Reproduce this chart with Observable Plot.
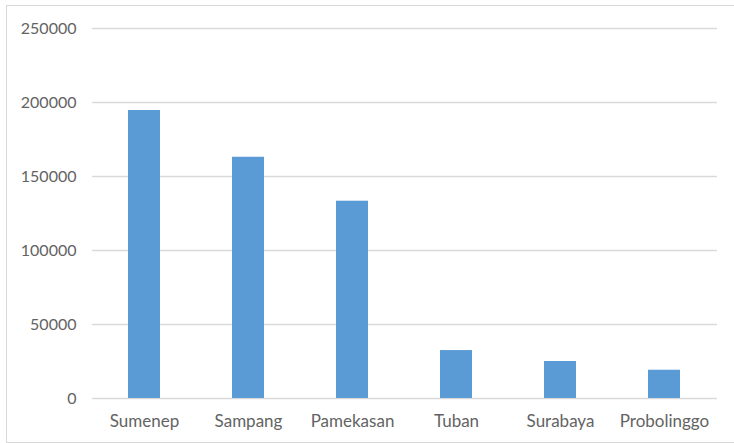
<!DOCTYPE html>
<html>
<head>
<meta charset="utf-8">
<script src="https://cdn.jsdelivr.net/npm/d3@7"></script>
<script src="https://cdn.jsdelivr.net/npm/@observablehq/plot@0.6"></script>
<style>
  html, body { margin: 0; padding: 0; background: #fff; }
  #chart { position: relative; width: 734px; height: 443px; overflow: hidden; }
  #chart::after {
    content: ""; position: absolute; left: 6px; top: 5px;
    width: 760px; height: 436px; border: 1px solid #d9d9d9; pointer-events: none;
  }
  #chart svg { display: block; }
</style>
</head>
<body>
<div id="chart"></div>
<script>
// Regencies / cities in East Java and their totals
const regions = ["Sumenep", "Sampang", "Pamekasan", "Tuban", "Surabaya", "Probolinggo"];
const totals = [194600, 163000, 133300, 32400, 25000, 19100];
const yTicks = [0, 50000, 100000, 150000, 200000, 250000];

const rows = regions.map((name, i) => ({ name, total: totals[i] }));

const chart = Plot.plot({
  width: 734,
  height: 443,
  marginLeft: 92,
  marginRight: 17,
  marginTop: 28,
  marginBottom: 45,
  style: { fontFamily: "Lato, 'Open Sans', sans-serif", fontSize: "16px", color: "#595959", background: "#fff" },
  x: { domain: regions, paddingInner: 0.69, paddingOuter: 0.345, label: null },
  y: { domain: [0, 250000], label: null },
  marks: [
    Plot.ruleY(yTicks, { stroke: "#d9d9d9", strokeWidth: 1.5 }),
    Plot.barY(rows, { x: "name", y: "total", fill: "#5b9bd5" }),
    Plot.axisY({ ticks: yTicks, tickSize: 0, tickPadding: 16, tickFormat: d => String(d), label: null, fill: "#636363", fontSize: 16 }),
    Plot.axisX({ tickSize: 0, tickPadding: 16, label: null, fill: "#636363", fontSize: 17 })
  ]
});
document.getElementById("chart").appendChild(chart);
</script>
</body>
</html>
